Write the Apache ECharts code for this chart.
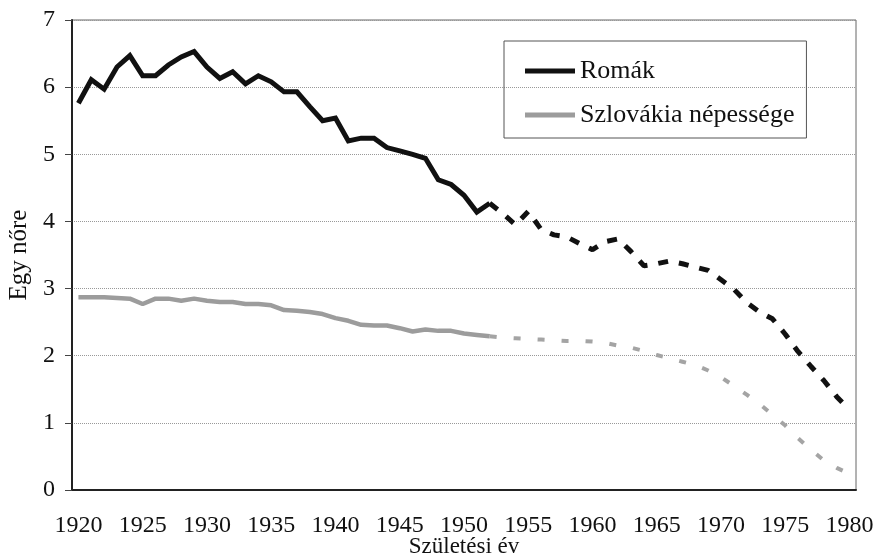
<!DOCTYPE html>
<html>
<head>
<meta charset="utf-8">
<script src="https://cdn.jsdelivr.net/npm/echarts@6/dist/echarts.min.js"></script>
<style>
  html, body { margin: 0; padding: 0; background: #fff; }
  #main { width: 877px; height: 558px; }
</style>
</head>
<body>
<div id="main"></div>
<script>
// születési évek 1920..1980
const years = [];
for (let y = 1920; y <= 1980; y++) years.push(String(y));

// Romák, mért adatok 1920-1952
const romakMert = [
  5.76, 6.11, 5.97, 6.30, 6.47, 6.17, 6.17, 6.33, 6.45, 6.53,
  6.30, 6.13, 6.23, 6.05, 6.17, 6.08, 5.93, 5.93, 5.71, 5.50,
  5.54, 5.20, 5.24, 5.24, 5.10, 5.05, 5.00, 4.94, 4.62, 4.55,
  4.39, 4.14, 4.27
];
// Romák, becslés 1953-1980
const romakBecsles = [
  4.12, 3.95, 4.15, 3.88, 3.80, 3.77, 3.67, 3.58, 3.70, 3.74,
  3.55, 3.34, 3.37, 3.41, 3.37, 3.32, 3.27, 3.13, 2.99, 2.79,
  2.65, 2.55, 2.32, 2.06, 1.84, 1.63, 1.39, 1.19
];
// Szlovákia népessége, mért 1920-1952
const szlovakMert = [
  2.87, 2.87, 2.87, 2.86, 2.85, 2.77, 2.85, 2.85, 2.82, 2.85,
  2.82, 2.80, 2.80, 2.77, 2.77, 2.75, 2.68, 2.67, 2.65, 2.62,
  2.56, 2.52, 2.46, 2.45, 2.45, 2.41, 2.36, 2.39, 2.37, 2.37,
  2.33, 2.31, 2.29
];
// Szlovákia népessége, becslés 1953-1980
const szlovakBecsles = [
  2.27, 2.26, 2.25, 2.24, 2.23, 2.22, 2.22, 2.21, 2.19, 2.15,
  2.12, 2.07, 2.01, 1.96, 1.91, 1.86, 1.78, 1.68, 1.55, 1.42,
  1.28, 1.12, 0.96, 0.77, 0.60, 0.44, 0.33, 0.24
];
const yTicks = [0, 1, 2, 3, 4, 5, 6, 7];

// solid part padded with nulls, dashed part starts at the last measured point
function solid(arr) {
  return arr.concat(new Array(years.length - arr.length).fill(null));
}
function dashed(measured, est) {
  const out = new Array(measured.length - 1).fill(null);
  out.push(measured[measured.length - 1]);
  return out.concat(est);
}

const font = '"Liberation Serif", "DejaVu Serif", serif';
const chart = echarts.init(document.getElementById('main'), null, { renderer: 'canvas' });

chart.setOption({
  animation: false,
  backgroundColor: '#fff',
  textStyle: { fontFamily: font, color: '#111' },
  grid: {
    left: 72, right: 21, top: 20, bottom: 68,
    containLabel: false,
    outerBoundsMode: 'none',
    show: true, borderColor: '#666', borderWidth: 1
  },
  legend: {
    orient: 'vertical',
    left: 504, top: 41,
    data: ['Romák', 'Szlovákia népessége'],
    icon: 'rect',
    itemWidth: 50, itemHeight: 5,
    itemGap: 18,
    padding: [17, 12, 10, 21],
    borderColor: '#555', borderWidth: 1,
    textStyle: { fontFamily: font, fontSize: 26, color: '#111' }
  },
  xAxis: {
    type: 'category',
    data: years,
    boundaryGap: true,
    name: 'Születési év',
    nameLocation: 'middle',
    nameGap: 45,
    nameMoveOverlap: false,
    nameTextStyle: { fontFamily: font, fontSize: 23, color: '#111' },
    axisLine: { lineStyle: { color: '#222', width: 2 } },
    axisTick: { interval: 0, length: 6, lineStyle: { color: '#333', width: 1 } },
    axisLabel: { interval: 4, margin: 24, fontFamily: font, fontSize: 24, color: '#111' },
    splitLine: { show: false }
  },
  yAxis: {
    type: 'value',
    min: yTicks[0], max: yTicks[yTicks.length - 1], interval: 1,
    name: 'Egy nőre',
    nameLocation: 'middle',
    nameGap: 40,
    nameMoveOverlap: false,
    nameTextStyle: { fontFamily: font, fontSize: 25, color: '#111' },
    axisLine: { show: true, lineStyle: { color: '#222', width: 2 } },
    axisTick: { show: true, inside: false, length: 7, lineStyle: { color: '#444' } },
    axisLabel: { margin: 17, fontFamily: font, fontSize: 24, color: '#111' },
    splitLine: { lineStyle: { color: '#999', width: 1, type: 'dotted' } }
  },
  series: [
    {
      name: 'Romák', type: 'line', data: solid(romakMert),
      symbol: 'none', color: '#111', z: 5,
      lineStyle: { width: 5, color: '#111', join: 'miter' }
    },
    {
      name: 'Szlovákia népessége', type: 'line', data: solid(szlovakMert),
      symbol: 'none', color: '#9c9c9c', z: 4,
      lineStyle: { width: 4.5, color: '#9c9c9c' }
    },
    {
      name: 'Romák becslés', type: 'line', data: dashed(romakMert, romakBecsles),
      symbol: 'none', color: '#111', z: 5,
      lineStyle: { width: 5, color: '#111', type: [10, 11], cap: 'butt' }
    },
    {
      name: 'Szlovákia becslés', type: 'line', data: dashed(szlovakMert, szlovakBecsles),
      symbol: 'none', color: '#9c9c9c', z: 4,
      lineStyle: { width: 4, color: '#a4a4a4', type: [7, 17] }
    }
  ]
});
</script>
</body>
</html>
